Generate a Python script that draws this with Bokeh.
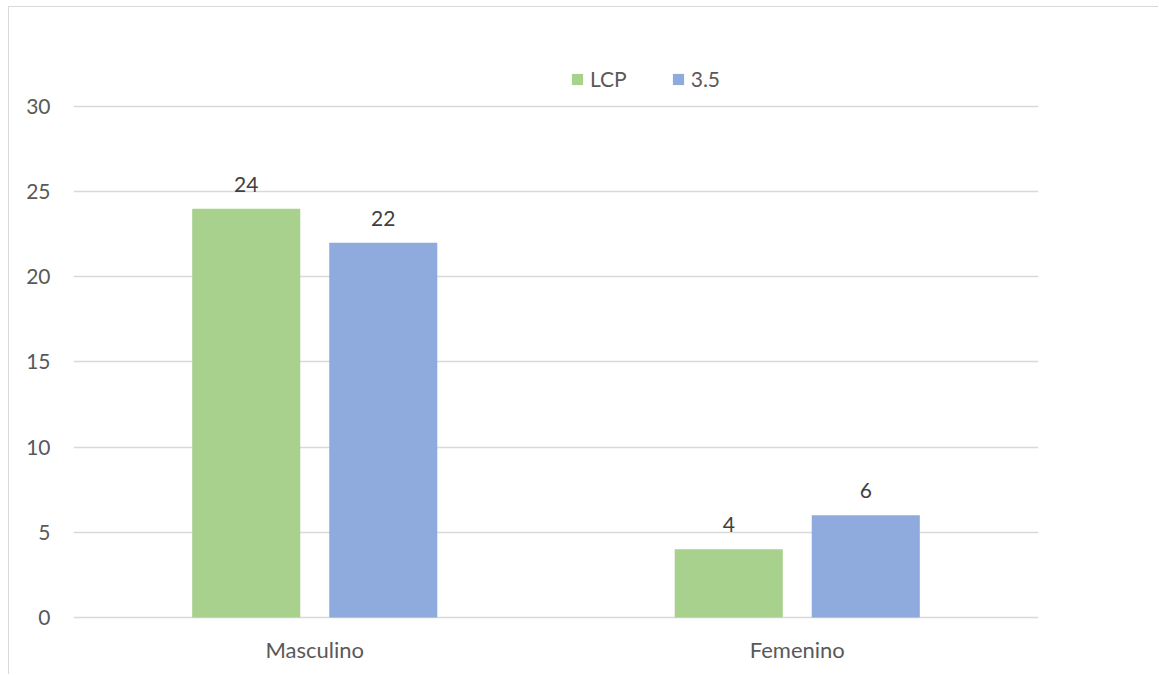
from bokeh.plotting import figure
from bokeh.models import (ColumnDataSource, FactorRange, Range1d, LabelSet, Legend,
                          LegendItem, FixedTicker)
from bokeh.core.properties import value
from bokeh.transform import dodge
from bokeh.embed import file_html
from bokeh.resources import INLINE

# Chart data
categories = ["Masculino", "Femenino"]
series_names = ["LCP", "3.5"]
lcp_values = [24, 4]
v35_values = [22, 6]
y_ticks = [0, 5, 10, 15, 20, 25, 30]

GREEN = "#A9D18E"
BLUE = "#8FAADC"
GRID = "#D9D9D9"
TEXT = "#595959"
FONT = "Lato"

source = ColumnDataSource(data=dict(
    cat=categories,
    lcp=lcp_values,
    v35=v35_values,
    lcp_txt=[str(v) for v in lcp_values],
    v35_txt=[str(v) for v in v35_values],
))

# the plot frame reaches above the top gridline so the legend can sit there
p = figure(
    width=1150, height=668,
    x_range=FactorRange(*categories, range_padding=0),
    y_range=Range1d(-0.12, 33.29),
    output_backend="svg", toolbar_location=None,
    min_border_left=64, min_border_right=121,
    min_border_top=43, min_border_bottom=56,
)
# thin chart-area border on the top and left edges
p.margin = (6, 0, 0, 8)
p.styles = {"border-top": "1px solid #D9D9D9", "border-left": "1px solid #D9D9D9"}
p.outline_line_color = None
p.background_fill_color = "white"
p.border_fill_color = "white"

off = 0.142
bw = 0.224
r1 = p.vbar(x=dodge("cat", -off, range=p.x_range), top="lcp", width=bw,
            source=source, fill_color=GREEN, line_color=None)
r2 = p.vbar(x=dodge("cat", off, range=p.x_range), top="v35", width=bw,
            source=source, fill_color=BLUE, line_color=None)

for col, txt, dx in (("lcp", "lcp_txt", -off), ("v35", "v35_txt", off)):
    p.add_layout(LabelSet(
        x=dodge("cat", dx, range=p.x_range), y=col, text=txt, source=source,
        text_align="center", text_baseline="alphabetic", y_offset=17,
        text_font=value(FONT), text_font_size="21px", text_color="#404040",
    ))

# Axes
p.yaxis.ticker = FixedTicker(ticks=y_ticks)
p.yaxis.axis_line_color = None
p.yaxis.major_tick_line_color = None
p.yaxis.minor_tick_line_color = None
p.yaxis.major_tick_out = 0
p.yaxis.minor_tick_out = 0
p.yaxis.major_label_standoff = 23
p.yaxis.major_label_text_font = FONT
p.yaxis.major_label_text_font_size = "21px"
p.yaxis.major_label_text_color = TEXT

p.xaxis.axis_line_color = None
p.xaxis.major_tick_line_color = None
p.xaxis.minor_tick_line_color = None
p.xaxis.major_tick_out = 0
p.xaxis.minor_tick_out = 0
p.xaxis.major_label_standoff = 16
p.xaxis.major_label_text_font = FONT
p.xaxis.major_label_text_font_size = "22px"
p.xaxis.major_label_text_color = TEXT

p.xgrid.grid_line_color = None
p.ygrid.grid_line_color = GRID
p.ygrid.grid_line_width = 1.5

# Legend at the top of the plot area
legend = Legend(
    items=[LegendItem(label=series_names[0], renderers=[r1]),
           LegendItem(label=series_names[1], renderers=[r2])],
    orientation="horizontal", location=(497, 528),
    padding=0, margin=0, spacing=44, label_standoff=6,
    glyph_width=14, glyph_height=14,
    border_line_color=None, background_fill_alpha=0,
    label_text_font=FONT, label_text_font_size="21px", label_text_color=TEXT,
)
p.add_layout(legend, "center")

open("out.html", "w").write(file_html(p, INLINE))
